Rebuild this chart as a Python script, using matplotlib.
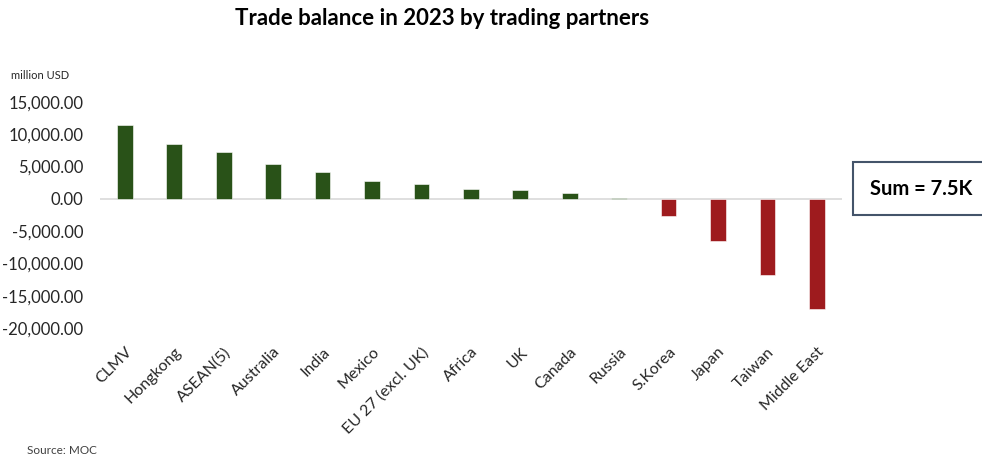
import matplotlib
matplotlib.use("Agg")
import matplotlib.pyplot as plt
from matplotlib.patches import Rectangle
from matplotlib.ticker import FuncFormatter

plt.rcParams["font.family"] = ["Lato", "DejaVu Sans"]

partners = [
    "CLMV", "Hongkong", "ASEAN(5)", "Australia", "India", "Mexico",
    "EU 27 (excl. UK)", "Africa", "UK", "Canada", "Russia",
    "S.Korea", "Japan", "Taiwan", "Middle East",
]
balance = [
    11500, 8500, 7200, 5400, 4150, 2700,
    2250, 1550, 1350, 850, 200,
    -2600, -6550, -11800, -17000,
]
y_ticks = [15000, 10000, 5000, 0, -5000, -10000, -15000, -20000]

GREEN = "#295218"
RED = "#9E1B1E"

fig = plt.figure(figsize=(9.82, 4.59), dpi=100)
ax = fig.add_axes([0.102, 0.285, 0.755, 0.493])

colors = [GREEN if v >= 0 else RED for v in balance]
ax.bar(range(len(partners)), balance, width=0.32, color=colors,
       edgecolor="white", linewidth=0.4, zorder=3)
ax.axhline(0, color="#D9D9D9", linewidth=1.2, zorder=2)

ax.set_xlim(-0.5, len(partners) - 0.5)
ax.set_ylim(-20000, 15000)
ax.set_yticks(y_ticks)
ax.yaxis.set_major_formatter(FuncFormatter(lambda v, p: f"{v:,.2f}"))
ax.set_xticks(range(len(partners)))
ax.set_xticklabels(partners, rotation=45, ha="right", rotation_mode="anchor")

ax.tick_params(axis="y", length=0, pad=12, labelsize=12, labelcolor="#262626")
ax.tick_params(axis="x", length=0, pad=12, labelsize=11.5, labelcolor="#262626")
for s in ax.spines.values():
    s.set_visible(False)

fig.text(0.45, 0.96, "Trade balance in 2023 by trading partners",
         ha="center", va="center", fontsize=16, fontweight="bold", color="#000000")
fig.text(0.011, 0.836, "million USD", ha="left", va="center",
         fontsize=8, color="#262626")
fig.text(0.028, 0.018, "Source: MOC", ha="left", va="center",
         fontsize=8.5, color="#404040")

fig.patches.append(Rectangle((0.869, 0.531), 0.14, 0.115, transform=fig.transFigure,
                             facecolor="white", edgecolor="#44546A", linewidth=1.5))
fig.text(0.938, 0.589, "Sum = 7.5K", ha="center", va="center",
         fontsize=14.5, fontweight="bold", color="#000000")

fig.savefig("out.png", dpi=100)
